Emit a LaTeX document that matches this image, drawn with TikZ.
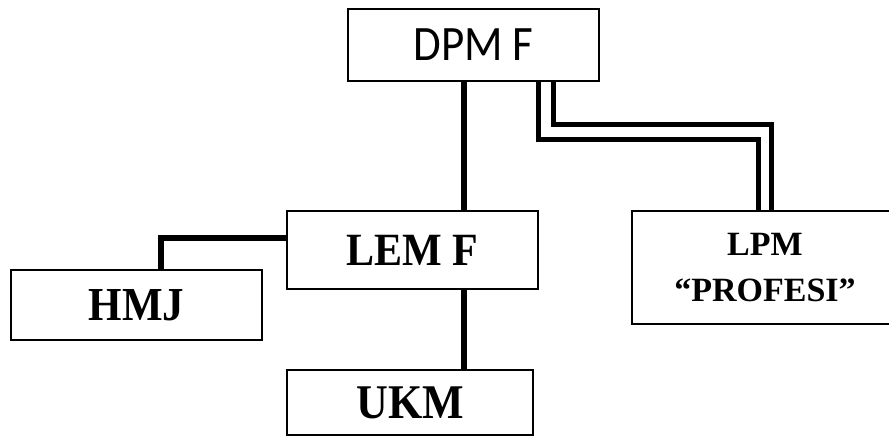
\documentclass[tikz,border=0pt]{standalone}
\usepackage{fontspec}
\setmainfont{Liberation Serif}
\newfontfamily\calibri{Carlito}
% labels are set slightly taller than their natural shape
\newcommand{\tall}[1]{\scalebox{1}[1.1]{#1}}

\begin{document}
\begin{tikzpicture}[x=1pt,y=-1pt,
  box/.style={draw, line width=1.3pt, rectangle, inner sep=0pt, align=center},
  link/.style={line width=6pt},
  strand/.style={line width=5pt}]
\clip (0,0) rectangle (889,438);
\useasboundingbox (0,0) rectangle (889,438);

% organisation units
\node[box, minimum width=251pt, minimum height=72pt,
      font=\calibri\fontsize{45}{54}\selectfont] (dpm) at (473.5,45) {\tall{DPM F}};
\node[box, minimum width=251pt, minimum height=78pt,
      font=\bfseries\fontsize{42}{50}\selectfont] (lem) at (412.5,250) {\tall{LEM F}};
\node[box, minimum width=246pt, minimum height=65pt,
      font=\bfseries\fontsize{44}{52}\selectfont] (ukm) at (410,402.5) {\tall{UKM}};
\node[box, minimum width=251pt, minimum height=70pt,
      font=\bfseries\fontsize{43}{52}\selectfont] (hmj) at (136.5,305) {\tall{HMJ}};
\node[box, minimum width=266pt, minimum height=113pt,
      font=\bfseries\fontsize{34}{46}\selectfont] (lpm) at (765,267.5) {LPM\\``PROFESI''};

% bend points of the connectors
\coordinate (trunk) at (464,0);
\coordinate (hbend) at (160.5,238);
\coordinate (a1) at (538,140);
\coordinate (a2) at (758,140);
\coordinate (b1) at (553,125);
\coordinate (b2) at (771,125);

% single connectors
\draw[link] (dpm.south -| trunk) -- (lem.north -| trunk);
\draw[link] (lem.south -| trunk) -- (ukm.north -| trunk);
\draw[link] (lem.west |- hbend) -- (hbend) -- (hmj.north -| hbend);

% double connector to LPM
\draw[strand] (dpm.south -| a1) -- (a1) -- (a2) -- (lpm.north -| a2);
\draw[strand] (dpm.south -| b1) -- (b1) -- (b2) -- (lpm.north -| b2);
\end{tikzpicture}
\end{document}
